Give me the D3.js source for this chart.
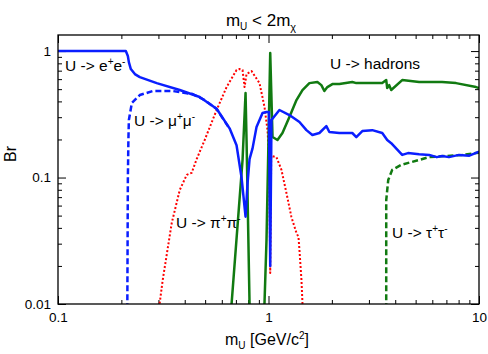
<!DOCTYPE html>
<html>
<head>
<meta charset="utf-8">
<script src="https://cdn.jsdelivr.net/npm/d3@7"></script>
<style>
  body { margin: 0; background: #fff; }
  text { font-family: "Liberation Sans", Arial, sans-serif; fill: #000; }
</style>
</head>
<body>
<div id="chart"></div>
<script>
// branching ratios: [mass GeV, Br]
const eeData = [[0.1, 1], [0.21, 1], [0.2147, 0.913], [0.2171, 0.818], [0.2218, 0.721],
    [0.2318, 0.658], [0.2447, 0.623], [0.2945, 0.558],
    [0.3787, 0.492], [0.471, 0.433], [0.567, 0.35], [0.6533, 0.245], [0.705, 0.18],
    [0.7447, 0.1], [0.778, 0.049], [0.7952, 0.09], [0.8128, 0.14], [0.8398, 0.17],
    [0.8772, 0.251], [0.9367, 0.324], [0.9784, 0.33], [1.005, 0.33], [1.019, 0.02],
    [1.033, 0.285], [1.127, 0.342], [1.257, 0.312], [1.403, 0.275], [1.514, 0.237],
    [1.616, 0.217], [1.745, 0.225], [1.883, 0.255], [1.946, 0.229], [2.17, 0.225],
    [2.501, 0.225], [2.613, 0.209], [2.79, 0.233], [3.111, 0.237], [3.47, 0.225],
    [3.664, 0.198], [3.828, 0.187], [4.316, 0.151], [4.6, 0.156], [5.195, 0.153],
    [5.8, 0.151], [6.3, 0.145], [6.678, 0.148], [7.2, 0.145], [8.039, 0.151],
    [9.0, 0.149], [10, 0.16]];

const mumuData = [[0.2123, 0.004], [0.2135, 0.01], [0.2147, 0.0955], [0.216, 0.198],
    [0.2171, 0.285], [0.2243, 0.388], [0.2447, 0.449], [0.282, 0.483], [0.351, 0.483],
    [0.4364, 0.457], [0.4975, 0.41], [0.567, 0.348], [0.6533, 0.243]];

const pipiData = [[0.3, 0.007], [0.3043, 0.0102], [0.3144, 0.0155], [0.347, 0.0437],
    [0.3787, 0.0796], [0.4088, 0.105], [0.4317, 0.109], [0.4559, 0.14], [0.4975, 0.198],
    [0.567, 0.342], [0.6322, 0.519], [0.705, 0.708], [0.7286, 0.721], [0.7529, 0.708],
    [0.7695, 0.519], [0.7865, 0.66], [0.8307, 0.695], [0.9063, 0.558], [0.9573, 0.361],
    [0.9892, 0.237], [1.008, 0.138], [1.019, 0.0176], [1.03, 0.148], [1.091, 0.145],
    [1.152, 0.115], [1.217, 0.0754], [1.285, 0.0487], [1.358, 0.0364], [1.388, 0.0339],
    [1.403, 0.0267], [1.434, 0.0155], [1.45, 0.0102], [1.47, 0.007]];

const hadronData = [[0.66, 0.007], [0.6676, 0.01], [0.7529, 0.138], [0.778, 0.466],
    [0.7865, 0.198], [0.8128, 0.01], [0.85, 0.004], [0.93, 0.004], [0.9573, 0.0102],
    [0.9784, 0.032], [1.019, 0.964], [1.045, 0.209], [1.103, 0.198], [1.165, 0.225],
    [1.257, 0.301], [1.358, 0.41], [1.45, 0.492], [1.564, 0.558], [1.707, 0.569],
    [1.783, 0.538], [1.842, 0.483], [1.904, 0.519], [2.011, 0.548], [2.17, 0.548],
    [2.501, 0.569], [2.613, 0.558], [3.111, 0.558], [3.47, 0.558], [3.625, 0.59],
    [3.664, 0.51], [3.745, 0.538], [3.828, 0.492], [4.316, 0.59], [5.195, 0.569],
    [6.678, 0.569], [7.78, 0.558], [9.678, 0.519], [10, 0.51]];

const tautauData = [[3.625, 0.004], [3.625, 0.0664], [3.705, 0.0955], [3.869, 0.115],
    [4.269, 0.126], [4.814, 0.133], [5.794, 0.145], [6.976, 0.148], [8.306, 0.151],
    [9.678, 0.156], [10, 0.157]];

const xMajor = [0.1, 1, 10];
const yMajor = [0.01, 0.1, 1];

const width = 488, height = 354;
const margin = { top: 35, right: 9, bottom: 50, left: 58 };
const innerW = width - margin.left - margin.right,
    innerH = height - margin.top - margin.bottom;

const svg = d3.select("#chart").append("svg")
    .attr("width", width)
    .attr("height", height);

const g = svg.append("g")
    .attr("transform", `translate(${margin.left}, ${margin.top})`);

const x = d3.scaleLog().domain([0.1, 10]).range([0, innerW]);
const y = d3.scaleLog().domain([0.01, 1.34]).range([innerH, 0]);

// all decade ticks 1..9
function logTicks(lo, hi) {
    let t = [];
    for (let e = lo; e < hi; e++) {
        for (let k = 1; k <= 9; k++) t.push(k * Math.pow(10, e));
    }
    t.push(Math.pow(10, hi));
    return t.map(v => +v.toPrecision(3));
}
const xTicks = logTicks(-1, 1);
const yTicks = logTicks(-2, 0).concat([2]).filter(v => v <= 1.34);

const isMajor = (v, list) => list.some(m => Math.abs(m - v) < 1e-9);
const fmt = v => (v >= 1 ? d3.format("d")(v) : String(v));

function styleTicks(sel, list, horiz) {
    sel.select(".domain").remove();
    sel.selectAll(".tick line")
        .attr("stroke", "#000")
        .attr("stroke-width", 1)
        .each(function (d) {
            let len = isMajor(d, list) ? 8 : 4;
            let line = d3.select(this);
            let sign = +line.attr(horiz ? "y2" : "x2") < 0 ? -1 : 1;
            line.attr(horiz ? "y2" : "x2", sign * len);
        });
    sel.selectAll(".tick text").style("font-size", "13.5px");
}

// bottom
g.append("g")
    .attr("transform", `translate(0, ${innerH})`)
    .call(d3.axisBottom(x).tickValues(xTicks).tickSizeInner(-8).tickSizeOuter(0).tickPadding(8)
        .tickFormat(d => isMajor(d, xMajor) ? fmt(d) : ""))
    .call(s => styleTicks(s, xMajor, true));
// top
g.append("g")
    .call(d3.axisTop(x).tickValues(xTicks).tickSizeInner(-8).tickSizeOuter(0).tickFormat(""))
    .call(s => styleTicks(s, xMajor, true));
// left
g.append("g")
    .call(d3.axisLeft(y).tickValues(yTicks).tickSizeInner(-8).tickSizeOuter(0).tickPadding(7)
        .tickFormat(d => isMajor(d, yMajor) ? fmt(d) : ""))
    .call(s => styleTicks(s, yMajor, false));
// right
g.append("g")
    .attr("transform", `translate(${innerW}, 0)`)
    .call(d3.axisRight(y).tickValues(yTicks).tickSizeInner(-8).tickSizeOuter(0).tickFormat(""))
    .call(s => styleTicks(s, yMajor, false));

g.selectAll(".tick text").attr("font-family", "Liberation Sans, Arial, sans-serif");

g.append("defs").append("clipPath").attr("id", "clip")
    .append("rect").attr("width", innerW).attr("height", innerH);

const line = d3.line().x(d => x(d[0])).y(d => y(d[1]));

const curves = g.append("g").attr("clip-path", "url(#clip)");

const series = [
    { data: pipiData, color: "#ff0000", width: 2, dash: "2,2" },
    { data: mumuData, color: "#0a1eff", width: 2.5, dash: "6,3" },
    { data: tautauData, color: "#117a11", width: 2.5, dash: "6,3" },
    { data: hadronData, color: "#117a11", width: 2.5, dash: null },
    { data: eeData, color: "#0a1eff", width: 2.5, dash: null }
];

series.forEach(s => {
    curves.append("path")
        .datum(s.data)
        .attr("fill", "none")
        .attr("stroke", s.color)
        .attr("stroke-width", s.width)
        .attr("stroke-linejoin", "round")
        .attr("stroke-dasharray", s.dash)
        .attr("d", line);
});

// frame
g.append("rect")
    .attr("width", innerW).attr("height", innerH)
    .attr("fill", "none").attr("stroke", "#000").attr("stroke-width", 1.3);

// curve labels
function label(px, py, name, sup1, sup2) {
    let t = svg.append("text").attr("x", px).attr("y", py).style("font-size", "15.5px");
    t.append("tspan").text("U -> " + name);
    if (sup1 !== undefined) {
        t.append("tspan").attr("dy", -6).style("font-size", "10px").text(sup1);
        t.append("tspan").attr("dy", 6).text(name);
        t.append("tspan").attr("dy", -6).style("font-size", "10px").text(sup2);
    }
}
label(65, 71, "e", "+", "-");
label(134, 126, "\u03bc", "+", "-");
label(176, 228, "\u03c0", "+", "-");
label(330, 69, "hadrons");
label(392, 238, "\u03c4", "+", "-");

// title
let title = svg.append("text")
    .attr("x", 261).attr("y", 26)
    .attr("text-anchor", "middle")
    .style("font-size", "17px");
title.append("tspan").text("m");
title.append("tspan").attr("dy", 4).style("font-size", "10px").text("U");
title.append("tspan").attr("dy", -4).text(" < 2m");
title.append("tspan").attr("dy", 5).style("font-size", "11px").text("\u03c7");

// axis titles
let xt = svg.append("text")
    .attr("x", 267).attr("y", 345)
    .attr("text-anchor", "middle")
    .style("font-size", "16px");
xt.append("tspan").text("m");
xt.append("tspan").attr("dy", 4).style("font-size", "10px").text("U");
xt.append("tspan").attr("dy", -4).text(" [GeV/c");
xt.append("tspan").attr("dy", -6).style("font-size", "10px").text("2");
xt.append("tspan").attr("dy", 6).text("]");

svg.append("text")
    .attr("transform", "translate(16, 154) rotate(-90)")
    .attr("text-anchor", "middle")
    .style("font-size", "16px")
    .text("Br");
</script>
</body>
</html>
